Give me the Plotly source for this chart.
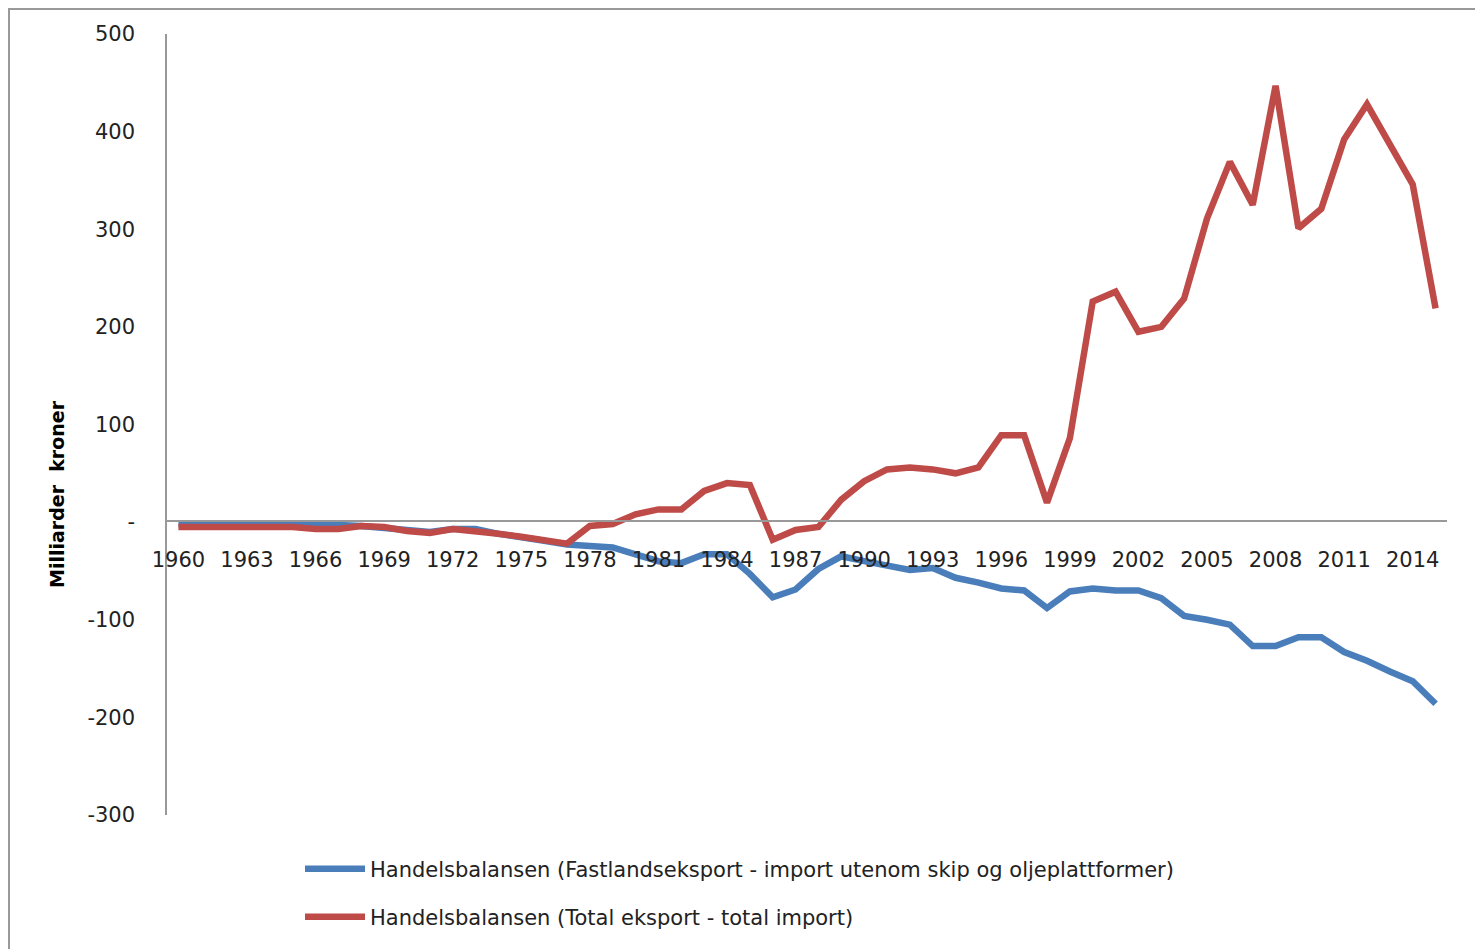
import plotly.graph_objects as go

years = list(range(1960, 2016))

fastland = [-2, -2, -2, -2, -2, -2, -3, -3, -4, -6,
            -9, -10, -7, -7, -12, -15, -19, -23, -24, -26,
            -33, -40, -42, -33, -33, -53, -77, -69, -48, -35,
            -40, -45, -49, -47, -57, -62, -68, -70, -88, -71,
            -68, -70, -70, -78, -96, -100, -105, -127, -127, -118,
            -118, -133, -142, -153, -163, -186]

total = [-5, -5, -5, -5, -5, -5, -7, -7, -4, -5,
         -9, -11, -7, -9, -12, -15, -19, -22, -4, -2,
         8, 13, 13, 32, 40, 38, -18, -8, -5, 23,
         42, 54, 56, 54, 50, 56, 89, 89, 20, 86,
         226, 236, 195, 200, 229, 311, 369, 325, 447, 301,
         321, 392, 428, 388, 346, 219]

name_blue = "Handelsbalansen (Fastlandseksport - import utenom skip og oljeplattformer)"
name_red = "Handelsbalansen (Total eksport - total import)"

yticks = [500, 400, 300, 200, 100, 0, -100, -200, -300]
yticktext = ["500", "400", "300", "200", "100", "-", "-100", "-200", "-300"]
xticks = list(range(1960, 2016, 3))

# page offset (body margin)
OFF = 8
W, H = 1483 - OFF, 949 - OFF
# plot area in page pixels
L, R, T, B = 167, 1447, 34, 815

def px(x):
    return (x - L) / (R - L)

def py(y):
    return (B - y) / (B - T)

font = "DejaVu Sans"

fig = go.Figure()
fig.add_trace(go.Scatter(x=years, y=fastland, mode="lines", name=name_blue,
                         line=dict(color="#4A7EBB", width=6.5), legend="legend"))
fig.add_trace(go.Scatter(x=years, y=total, mode="lines", name=name_red,
                         line=dict(color="#BE4B48", width=6.5), legend="legend2"))

fig.update_layout(
    width=W, height=H,
    margin=dict(l=L - OFF, r=(1483 - R), t=T - OFF, b=(949 - B)),
    paper_bgcolor="white", plot_bgcolor="white",
    font=dict(family=font, size=21, color="#222"),
    showlegend=True,
    legend=dict(x=px(300), y=py(869), xanchor="left", yanchor="middle",
                bgcolor="rgba(0,0,0,0)", font=dict(size=21, color="#222"),
                itemwidth=60),
    legend2=dict(x=px(300), y=py(917), xanchor="left", yanchor="middle",
                 bgcolor="rgba(0,0,0,0)", font=dict(size=21, color="#222"),
                 itemwidth=60),
    xaxis=dict(range=[1959.5, 2015.5], tickmode="array", tickvals=xticks,
               ticktext=[str(v) for v in xticks],
               anchor="free", position=py(521), showline=True,
               linecolor="#999", linewidth=1.5, showgrid=False, zeroline=False,
               ticks="", ticklabelstandoff=20, tickfont=dict(size=21, color="#222")),
    yaxis=dict(range=[-300, 500], tickmode="array", tickvals=yticks,
               ticktext=yticktext, showline=True, linecolor="#999", linewidth=1.5,
               showgrid=False, zeroline=False, ticks="", ticklabelstandoff=26,
               tickfont=dict(size=21, color="#222")),
    shapes=[dict(type="rect", xref="paper", yref="paper",
                 x0=px(9), x1=px(1500), y0=py(OFF + 1), y1=py(1000),
                 line=dict(color="#999", width=2), fillcolor="rgba(0,0,0,0)",
                 layer="below")],
    annotations=[dict(text="<b>Milliarder  kroner</b>", textangle=-90,
                      xref="paper", yref="paper", x=px(57), y=py(494),
                      xanchor="center", yanchor="middle", showarrow=False,
                      font=dict(size=19, color="#000"))],
)

fig.write_html("out.html")
